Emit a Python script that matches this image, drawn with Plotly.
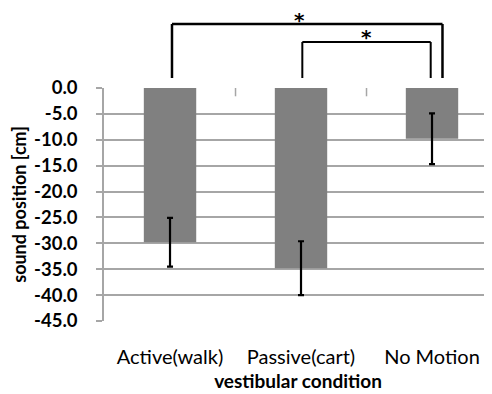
import plotly.graph_objects as go

categories = ["Active(walk)", "Passive(cart)", "No Motion"]
means = [-29.8, -34.8, -9.8]
errors = [4.7, 5.2, 4.9]
y_ticks = [0, -5, -10, -15, -20, -25, -30, -35, -40, -45]
y_tick_labels = ["0.0", "-5.0", "-10.0", "-15.0", "-20.0", "-25.0", "-30.0", "-35.0", "-40.0", "-45.0"]

FONT = "Lato"
STAR_FONT = "DejaVu Sans"
GRID = "#a6a6a6"

fig = go.Figure()
fig.add_trace(go.Bar(
    x=categories, y=means, width=0.4,
    marker=dict(color="#808080", line=dict(width=0)),
    error_y=dict(type="data", array=errors, color="black", thickness=2.2, width=3),
))

# the page body adds an 8px margin, so the figure is 8px smaller than the window
OFF = 8
W, H = 492 - OFF, 394 - OFF
mt, mb, ml, mr = 88 - OFF, 73, 104 - OFF, 0
plot_h = H - mt - mb

def py(p):
    # convert a window pixel row to paper coordinate
    return (H - mb - (p - OFF)) / plot_h

big_top, small_top, bot = py(24), py(42), py(78)
shapes = []
# big bracket
for (x0, y0, x1, y1) in [(0.015, bot, 0.015, big_top), (0.015, big_top, 2.08, big_top), (2.08, bot, 2.08, big_top)]:
    shapes.append(dict(type="line", xref="x", yref="paper", x0=x0, x1=x1, y0=y0, y1=y1,
                       line=dict(color="black", width=2.5)))
# small bracket
for (x0, y0, x1, y1) in [(1.01, bot, 1.01, small_top), (1.01, small_top, 1.99, small_top), (1.99, bot, 1.99, small_top)]:
    shapes.append(dict(type="line", xref="x", yref="paper", x0=x0, x1=x1, y0=y0, y1=y1,
                       line=dict(color="black", width=2)))
# category-axis tick marks at y = 0
for xv in (0.5, 1.5):
    shapes.append(dict(type="line", xref="x", yref="y", x0=xv, x1=xv, y0=0, y1=-1.6,
                       line=dict(color=GRID, width=1.5)))

annotations = [
    dict(x=0.99, y=py(6.5), xref="x", yref="paper", text="<b>*</b>", showarrow=False,
         font=dict(family=STAR_FONT, size=20, color="black"), yanchor="top"),
    dict(x=1.5, y=py(22.5), xref="x", yref="paper", text="<b>*</b>", showarrow=False,
         font=dict(family=STAR_FONT, size=20, color="black"), yanchor="top"),
]

fig.update_layout(
    width=W, height=H,
    margin=dict(l=ml, r=mr, t=mt, b=mb, autoexpand=False),
    paper_bgcolor="white", plot_bgcolor="white",
    showlegend=False,
    shapes=shapes,
    annotations=annotations,
    font=dict(family=FONT, color="black"),
)
fig.update_xaxes(
    range=[-0.504, 2.458], automargin=False,
    showgrid=False, showline=False, zeroline=False,
    ticks="", ticklabelstandoff=22,
    tickfont=dict(family=FONT, size=20, color="black"),
    title=dict(text="<b>vestibular condition</b>", font=dict(family=FONT, size=19, color="black"), standoff=7),
)
fig.update_yaxes(
    range=[-45, 0], automargin=False,
    tickvals=y_ticks, ticktext=["<b>%s</b>" % t for t in y_tick_labels],
    showgrid=True, gridcolor=GRID, gridwidth=1.5,
    zeroline=False,
    showline=True, linecolor=GRID, linewidth=1.5,
    ticks="outside", ticklen=6, tickcolor=GRID, tickwidth=1.5,
    ticklabelstandoff=15,
    tickfont=dict(family=FONT, size=18.5, color="black"),
    title=dict(text="<b>sound position [cm]</b>", font=dict(family=FONT, size=18, color="black"), standoff=8),
)

fig.write_html("out.html")
